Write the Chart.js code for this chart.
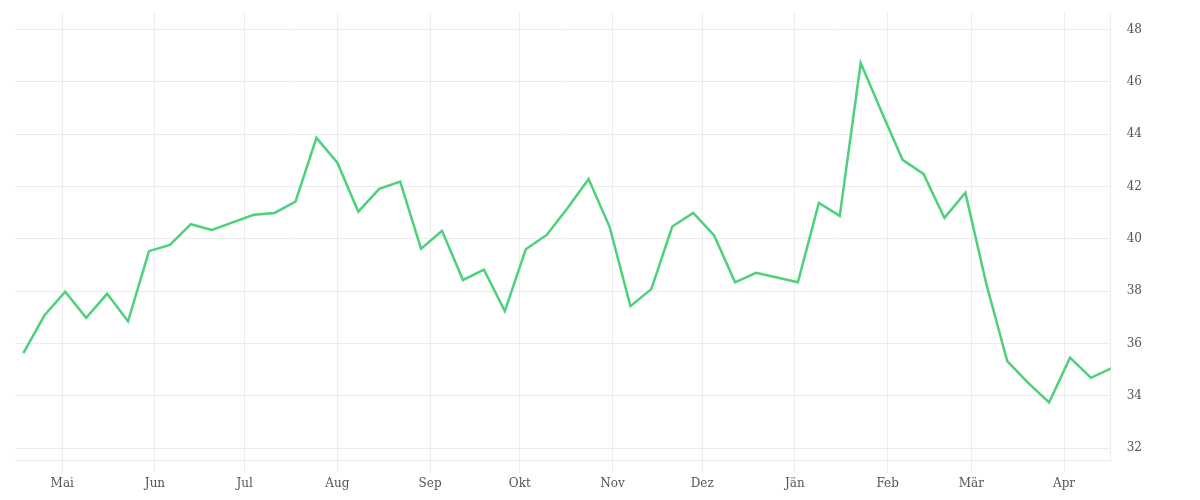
<!DOCTYPE html>
<html>
<head>
<meta charset="utf-8">
<script src="https://cdn.jsdelivr.net/npm/chart.js@4"></script>
<style>
  html, body { margin: 0; padding: 0; background: #fff; }
</style>
</head>
<body>
<canvas id="myChart" width="1200" height="500"></canvas>
<script>
// weekly dates of the series
const dates = [
  '2022-04-18', '2022-04-25', '2022-05-02', '2022-05-09', '2022-05-16', '2022-05-23', '2022-05-30',
  '2022-06-06', '2022-06-13', '2022-06-20', '2022-06-27', '2022-07-04', '2022-07-11', '2022-07-18',
  '2022-07-25', '2022-08-01', '2022-08-08', '2022-08-15', '2022-08-22', '2022-08-29', '2022-09-05',
  '2022-09-12', '2022-09-19', '2022-09-26', '2022-10-03', '2022-10-10', '2022-10-17', '2022-10-24',
  '2022-10-31', '2022-11-07', '2022-11-14', '2022-11-21', '2022-11-28', '2022-12-05', '2022-12-12',
  '2022-12-19', '2022-12-26', '2023-01-02', '2023-01-09', '2023-01-16', '2023-01-23', '2023-01-30',
  '2023-02-06', '2023-02-13', '2023-02-20', '2023-02-27', '2023-03-06', '2023-03-13', '2023-03-20',
  '2023-03-27', '2023-04-03', '2023-04-10', '2023-04-17'
];

const values = [
  35.63, 37.07, 37.98, 36.98, 37.90, 36.85, 39.53, 39.77, 40.56, 40.34,
  40.63, 40.92, 40.99, 41.42, 43.86, 42.91, 41.04, 41.91, 42.19, 39.62,
  40.31, 38.43, 38.82, 37.24, 39.60, 40.15, 41.18, 42.29, 40.47, 37.43,
  38.08, 40.47, 40.99, 40.13, 38.34, 38.70, 38.52, 38.34, 41.37, 40.88,
  46.72, 44.85, 43.02, 42.48, 40.80, 41.76, 38.28, 35.33, 34.50, 33.75,
  35.46, 34.69, 35.07
];

// month ticks on the x axis
const monthStarts = ['2022-05-01', '2022-06-01', '2022-07-01', '2022-08-01', '2022-09-01', '2022-10-01',
  '2022-11-01', '2022-12-01', '2023-01-01', '2023-02-01', '2023-03-01', '2023-04-01'];
const monthLabels = ['Mai', 'Jun', 'Jul', 'Aug', 'Sep', 'Okt', 'Nov', 'Dez', 'Jän', 'Feb', 'Mär', 'Apr'];

// y axis ticks
const yTicks = [32, 34, 36, 38, 40, 42, 44, 46, 48];

// day offset from the first month start
const origin = Date.parse('2022-05-01T00:00:00Z');
function dayOf(s) {
  return Math.round((Date.parse(s + 'T00:00:00Z') - origin) / 86400000);
}

const points = dates.map((d, i) => ({ x: dayOf(d), y: values[i] }));
const monthDays = monthStarts.map(dayOf);

const gridColor = '#ececec';
const textColor = '#555555';
const font = { family: '"DejaVu Serif", serif', size: 12 };

var ctx = document.getElementById('myChart').getContext('2d');

var myChart = new Chart(ctx, {
  type: 'line',
  data: {
    datasets: [{
      data: points,
      borderColor: '#4dd17d',
      borderWidth: 2.5,
      pointRadius: 0,
      tension: 0,
      fill: false
    }]
  },
  options: {
    responsive: false,
    animation: false,
    layout: {
      padding: { left: 15, top: 13, right: 0, bottom: 0 }
    },
    plugins: {
      legend: { display: false },
      tooltip: { enabled: false }
    },
    scales: {
      x: {
        type: 'linear',
        min: -15.8,
        max: 350.6,
        afterBuildTicks: function (axis) {
          axis.ticks = monthDays.map(v => ({ value: v }));
        },
        afterFit: function (axis) {
          axis.height = 40;
          axis.paddingLeft = 0;
          axis.paddingRight = 0;
        },
        grid: {
          color: gridColor,
          lineWidth: 1,
          drawTicks: true,
          tickLength: 13,
          tickColor: gridColor
        },
        border: { display: true, color: gridColor },
        ticks: {
          autoSkip: false,
          maxRotation: 0,
          padding: 4,
          color: textColor,
          font: font,
          callback: function (value) {
            const i = monthDays.indexOf(value);
            return i >= 0 ? monthLabels[i] : '';
          }
        }
      },
      y: {
        position: 'right',
        min: 31.55,
        max: 48.63,
        afterBuildTicks: function (axis) {
          axis.ticks = yTicks.map(v => ({ value: v }));
        },
        afterFit: function (axis) {
          axis.width = 89.3;
          axis.paddingTop = 0;
          axis.paddingBottom = 0;
        },
        grid: {
          color: gridColor,
          lineWidth: 1,
          drawTicks: false
        },
        border: { display: true, color: gridColor },
        ticks: {
          autoSkip: false,
          padding: 16,
          color: textColor,
          font: font
        }
      }
    }
  }
});
</script>
</body>
</html>
